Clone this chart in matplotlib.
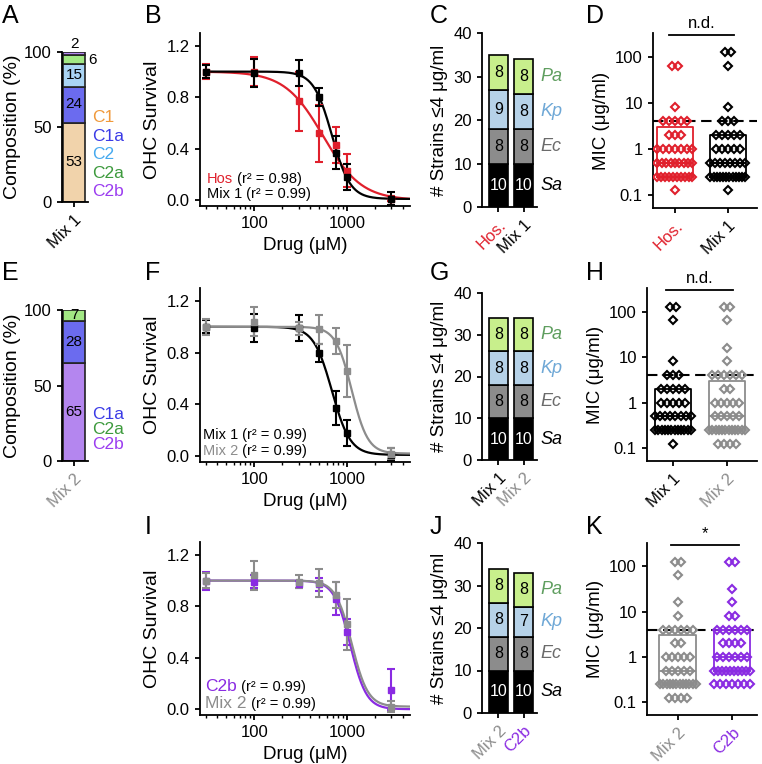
import numpy as np
import matplotlib
matplotlib.use('Agg')
import matplotlib.pyplot as plt
from matplotlib.ticker import LogLocator, NullFormatter
from matplotlib.transforms import blended_transform_factory

plt.rcParams['font.family'] = ['Liberation Sans', 'DejaVu Sans']
plt.rcParams['axes.linewidth'] = 1.3
plt.rcParams['xtick.major.width'] = 1.3
plt.rcParams['ytick.major.width'] = 1.3
plt.rcParams['xtick.major.size'] = 3.8
plt.rcParams['ytick.major.size'] = 3.8
plt.rcParams['xtick.minor.size'] = 2.2
plt.rcParams['xtick.minor.width'] = 1.0
plt.rcParams['xtick.labelsize'] = 12
plt.rcParams['ytick.labelsize'] = 12
plt.rcParams['axes.labelsize'] = 14

# ---- data ----
# composition (%)
mix1_comp_names = ['C1', 'C1a', 'C2', 'C2a', 'C2b']
mix1_comp = [53, 24, 15, 6, 2]
mix2_comp_names = ['C2b', 'C1a', 'C2a']
mix2_comp = [65, 28, 7]

# OHC survival dose response
dose = [30, 100, 300, 500, 750, 1000, 3000]
hos_surv = [1.00, 1.00, 0.77, 0.52, 0.43, 0.23, 0.01]
hos_err = [0.06, 0.11, 0.23, 0.22, 0.14, 0.13, 0.02]
mix1_surv = [1.00, 0.99, 0.99, 0.80, 0.37, 0.18, 0.01]
mix1_err = [0.05, 0.11, 0.10, 0.07, 0.13, 0.10, 0.05]
mix2_surv = [1.00, 1.04, 0.99, 0.98, 0.89, 0.66, 0.02]
mix2_err = [0.06, 0.11, 0.05, 0.11, 0.10, 0.20, 0.04]
c2b_surv = [1.00, 0.99, 0.97, 0.97, 0.86, 0.60, 0.15]
c2b_err = [0.07, 0.05, 0.03, 0.05, 0.13, 0.10, 0.16]

# Hill fits: top, bottom, IC50, slope
fit_hos = (1.0, 0.0, 550, 2.1)
fit_mix1 = (1.0, 0.01, 685, 4.4)
fit_mix2 = (1.0, 0.02, 1120, 5.0)
fit_c2b = (1.0, 0.0, 1080, 5.0)

# strains with MIC <= 4 ug/ml (Sa, Ec, Kp, Pa)
species = ['Sa', 'Ec', 'Kp', 'Pa']
strains_hos = [10, 8, 9, 8]
strains_mix1 = [10, 8, 8, 8]
strains_mix2 = [10, 8, 8, 8]
strains_c2b = [10, 8, 7, 8]

# MIC distributions: counts at each level
mic_levels = [0.125, 0.25, 0.5, 1, 2, 4, 8, 16, 32, 64, 128]
mic_hos = [1, 10, 9, 7, 3, 5, 1, 0, 0, 2, 0]
mic_mix1 = [1, 12, 8, 5, 5, 3, 1, 0, 0, 1, 2]
mic_mix2 = [4, 12, 5, 5, 2, 6, 1, 1, 0, 1, 2]
mic_c2b = [0, 7, 10, 6, 4, 6, 2, 1, 1, 0, 2]
# box: q1, median, q3
box_hos = (0.25, 0.5, 3)
box_mix1 = (0.25, 0.5, 2)
box_mix2 = (0.25, 0.5, 3)
box_c2b = (0.5, 1, 4)

# colours
RED = '#e0202c'
GRAY = '#8c8c8c'
PURPLE = '#8a2be2'
comp_face = {'C1': '#f1d3ab', 'C1a': '#6b6bef', 'C2': '#a9d4f4', 'C2a': '#a2e884', 'C2b': '#b486ef'}
comp_text = {'C1': '#f0993a', 'C1a': '#3b3be6', 'C2': '#45a9ef', 'C2a': '#3d9a3d', 'C2b': '#9b3cf0'}
sp_face = ['#000000', '#8c8c8c', '#b6d2e8', '#c8ef8c']
sp_text = ['#000000', '#6b6b6b', '#6fa8d6', '#5f9e5f']

W, H = 762, 764
fig = plt.figure(figsize=(W / 100, H / 100), dpi=100)


def px_axes(x0, y0, x1, y1):
    ax = fig.add_axes([x0 / W, 1 - y1 / H, (x1 - x0) / W, (y1 - y0) / H])
    ax.spines['top'].set_visible(False)
    ax.spines['right'].set_visible(False)
    return ax


def letter(x, y, s):
    fig.text(x / W, 1 - y / H, s, fontsize=18, va='top', ha='left')


def xlabels(ax, labels, colors):
    ax.set_xticklabels(labels, rotation=45, ha='right', rotation_mode='anchor')
    for t, c in zip(ax.get_xticklabels(), colors):
        t.set_color(c)


def composition(ax, names, vals, inside, legend_names, leg_y, leg_step, label, lab_color):
    bottom = 0
    for n, v in zip(names, vals):
        ax.bar(0, v, bottom=bottom, width=1.0, color=comp_face[n], edgecolor='#222222', linewidth=1.2)
        if n in inside:
            ax.text(0, bottom + v / 2, str(v), ha='center', va='center', fontsize=11)
        bottom += v
    ax.set_xlim(-0.55, 0.64)
    ax.set_ylim(0, 100)
    ax.set_yticks([0, 50, 100])
    ax.set_xticks([0])
    xlabels(ax, [label], [lab_color])
    ax.set_ylabel('Composition (%)', labelpad=2)
    for i, n in enumerate(legend_names):
        ax.text(1.15, leg_y - i * leg_step, n, color=comp_text[n], fontsize=12.5,
                transform=ax.transAxes, va='center', ha='left')


def hill(x, p):
    top, bot, ic50, n = p
    return bot + (top - bot) / (1 + (x / ic50) ** n)


xs_fit = np.logspace(np.log10(30), np.log10(4700), 300)


def dose_panel(ax, series):
    for surv, err, fit, col in series:
        ax.plot(xs_fit, hill(xs_fit, fit), color=col, lw=1.6, zorder=2)
        ax.errorbar(dose, surv, yerr=err, fmt='s', color=col, ms=4.2, lw=1.5,
                    capsize=3, capthick=1.5, zorder=3)
    ax.set_xscale('log')
    ax.set_xlim(26, 4750)
    ax.set_ylim(-0.045, 1.3)
    ax.set_yticks([0, 0.4, 0.8, 1.2])
    ax.set_yticklabels(['0.0', '0.4', '0.8', '1.2'])
    ax.set_xticks([100, 1000])
    ax.set_xticklabels(['100', '1000'])
    ax.xaxis.set_minor_locator(LogLocator(base=10, subs=np.arange(2, 10)))
    ax.xaxis.set_minor_formatter(NullFormatter())
    ax.set_xlabel('Drug (\u03bcM)', fontsize=13.5)
    ax.set_ylabel('OHC Survival')


def two_part(ax, x, y, first, col, rest, s1, s2):
    t = ax.text(x, y, first, color=col, fontsize=s1, transform=ax.transAxes, va='center')
    ax.annotate(rest, xy=(1, 0), xycoords=t, xytext=(0, 0), textcoords='offset points',
                fontsize=s2, va='bottom', ha='left')


def strains_panel(ax, groups, labels, colors):
    for gi, g in enumerate(groups):
        bottom = 0
        for si, v in enumerate(g):
            ax.bar(gi, v, bottom=bottom, width=0.76, color=sp_face[si], edgecolor='black', linewidth=1.2)
            ax.text(gi, bottom + v / 2, str(v), ha='center', va='center', fontsize=11.5,
                    color='white' if si == 0 else 'black')
            bottom += v
    last = groups[-1]
    tr = blended_transform_factory(ax.transAxes, ax.transData)
    cum = np.cumsum([0] + list(last))
    for si, s in enumerate(species):
        ax.text(1.06, (cum[si] + cum[si + 1]) / 2, s, color=sp_text[si], fontsize=13,
                style='italic', transform=tr, va='center', ha='left')
    ax.set_xlim(-0.66, 1.54)
    ax.set_ylim(0, 40)
    ax.set_yticks([0, 10, 20, 30, 40])
    ax.set_xticks([0, 1])
    xlabels(ax, labels, colors)
    ax.set_ylabel('# Strains \u22644 \u03bcg/ml', fontsize=13.5)


def swarm(counts, half=0.33):
    xs, ys = [], []
    for lvl, n in zip(mic_levels, counts):
        if n == 0:
            continue
        step = min(0.11, 2 * half / max(n - 1, 1))
        off = (np.arange(n) - (n - 1) / 2) * step
        xs.extend(off)
        ys.extend([lvl] * n)
    return np.array(xs), np.array(ys)


def mic_panel(ax, groups, labels, colors, xlim, sig):
    for gi, (counts, box, col) in enumerate(groups):
        q1, med, q3 = box
        stats = [dict(med=med, q1=q1, q3=q3, whislo=q1, whishi=q3, fliers=[])]
        ax.bxp(stats, positions=[gi], widths=0.68, showcaps=False, showfliers=False,
               boxprops=dict(color=col, lw=1.3), medianprops=dict(color=col, lw=1.3),
               whiskerprops=dict(color=col, lw=0))
        ox, oy = swarm(counts)
        ax.plot(gi + ox, oy, 'D', ms=4.4, mfc='none', mec=col, mew=1.5, zorder=3)
    ax.axhline(4, color='black', lw=1.5, ls=(0, (5, 2.7)), zorder=1)
    ax.set_yscale('log')
    ax.set_ylim(0.052, 330)
    ax.set_yticks([0.1, 1, 10, 100])
    ax.set_yticklabels(['0.1', '1', '10', '100'])
    ax.yaxis.set_minor_locator(plt.NullLocator())
    ax.set_xlim(*xlim)
    ax.set_xticks([0, 1])
    xlabels(ax, labels, colors)
    ax.set_ylabel('MIC (\u03bcg/ml)', fontsize=13.5)
    tr = blended_transform_factory(ax.transData, ax.transAxes)
    ax.plot([-0.12, 1.12], [0.99, 0.99], color='black', lw=1.3, transform=tr, clip_on=False)
    ax.text(0.5, 1.01, sig, transform=tr, ha='center', va='bottom', fontsize=12)


# ---- row 1 ----
axA = px_axes(62, 52, 88, 202)
composition(axA, mix1_comp_names, mix1_comp, ['C1', 'C1a', 'C2'], mix1_comp_names,
            0.56, 0.123, 'Mix 1', 'black')
axA.text(0.64, 95, '6', fontsize=11, va='center', ha='left')
axA.text(0, 101, '2', fontsize=11, va='bottom', ha='center')

axB = px_axes(200, 33, 410, 206)
dose_panel(axB, [(hos_surv, hos_err, fit_hos, RED), (mix1_surv, mix1_err, fit_mix1, 'black')])
two_part(axB, 0.033, 0.156, 'Hos', RED, ' (r\u00b2 = 0.98)', 10.5, 10.5)
two_part(axB, 0.033, 0.069, 'Mix 1', 'black', ' (r\u00b2 = 0.99)', 10.5, 10.5)

axC = px_axes(482, 33, 537, 207)
strains_panel(axC, [strains_hos, strains_mix1], ['Hos.', 'Mix 1'], [RED, 'black'])

axD = px_axes(653, 33, 757, 208)
mic_panel(axD, [(mic_hos, box_hos, RED), (mic_mix1, box_mix1, 'black')],
          ['Hos.', 'Mix 1'], [RED, 'black'], (-0.415, 1.55), 'n.d.')

# ---- row 2 ----
axE = px_axes(62, 310, 88, 461)
composition(axE, mix2_comp_names, mix2_comp, ['C2b', 'C1a', 'C2a'], ['C1a', 'C2a', 'C2b'],
            0.31, 0.1, 'Mix 2', GRAY)

axF = px_axes(200, 288, 410, 462)
dose_panel(axF, [(mix1_surv, mix1_err, fit_mix1, 'black'), (mix2_surv, mix2_err, fit_mix2, GRAY)])
two_part(axF, 0.014, 0.155, 'Mix 1', 'black', ' (r\u00b2 = 0.99)', 10.5, 10.5)
two_part(axF, 0.014, 0.063, 'Mix 2', GRAY, ' (r\u00b2 = 0.99)', 10.5, 10.5)

axG = px_axes(482, 293, 537, 460)
strains_panel(axG, [strains_mix1, strains_mix2], ['Mix 1', 'Mix 2'], ['black', GRAY])

axH = px_axes(647, 288, 757, 461)
mic_panel(axH, [(mic_mix1, box_mix1, 'black'), (mic_mix2, box_mix2, GRAY)],
          ['Mix 1', 'Mix 2'], ['black', GRAY], (-0.48, 1.556), 'n.d.')

# ---- row 3 ----
axI = px_axes(200, 542, 410, 715)
dose_panel(axI, [(c2b_surv, c2b_err, fit_c2b, PURPLE), (mix2_surv, mix2_err, fit_mix2, GRAY)])
two_part(axI, 0.024, 0.162, 'C2b', PURPLE, ' (r\u00b2 = 0.99)', 12.5, 10.5)
two_part(axI, 0.024, 0.064, 'Mix 2', GRAY, ' (r\u00b2 = 0.99)', 12.5, 10.5)

axJ = px_axes(482, 543, 537, 713)
strains_panel(axJ, [strains_mix2, strains_c2b], ['Mix 2', 'C2b'], [GRAY, PURPLE])

axK = px_axes(647, 543, 757, 715)
mic_panel(axK, [(mic_mix2, box_mix2, GRAY), (mic_c2b, box_c2b, PURPLE)],
          ['Mix 2', 'C2b'], [GRAY, PURPLE], (-0.57, 1.46), '*')

for x, y, s in [(2, 4, 'A'), (145, 4, 'B'), (430, 4, 'C'), (586, 4, 'D'),
                (2, 261, 'E'), (145, 261, 'F'), (430, 261, 'G'), (586, 261, 'H'),
                (145, 515, 'I'), (430, 515, 'J'), (586, 515, 'K')]:
    letter(x, y, s)

fig.savefig('out.png', dpi=100)
